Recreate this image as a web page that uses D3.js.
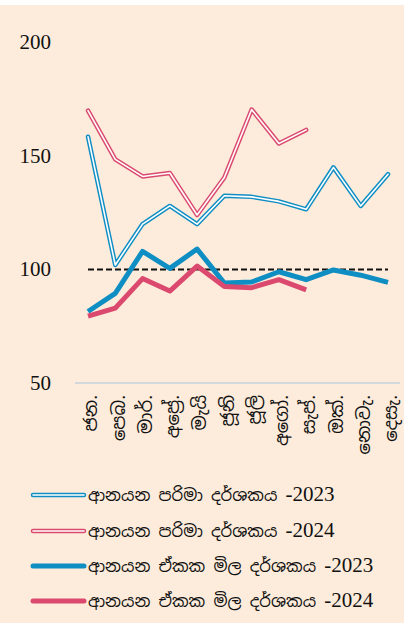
<!DOCTYPE html>
<html lang="si">
  <head>
    <meta charset="utf-8" />
    <title>ආනයන දර්ශක</title>
    <script src="https://cdn.jsdelivr.net/npm/d3@7"></script>
    <style>
      body {
        margin: 0;
        background: #fff;
      }
      .tick-label {
        font-family: "Liberation Serif", "Times New Roman", serif;
        font-size: 21px;
        fill: #111;
      }
      .month-label {
        font-family: "Noto Sans Sinhala", "Iskoola Pota", "Liberation Serif", serif;
        font-size: 18px;
        fill: #111;
      }
      .legend-label {
        font-family: "Noto Sans Sinhala", "Iskoola Pota", "Liberation Serif", serif;
        font-size: 16.5px;
        fill: #111;
      }
      .legend-year {
        font-family: "Liberation Serif", "Times New Roman", serif;
        font-size: 21px;
      }
    </style>
  </head>
  <body>
    <svg id="chart"></svg>
    <script>
      // data
      const months = ["ජන.", "පෙබ.", "මාර්.", "අප්‍රේ.", "මැයි", "ජූනි", "ජූලි", "අගෝ.", "සැප්.", "ඔක්.", "නොවැ.", "දෙසැ."];
      const volume2023 = [158.5, 102, 120, 128, 120, 132.5, 132, 130, 126.5, 145, 128, 142];
      const volume2024 = [170, 148.5, 141, 142.5, 124, 140.5, 170.5, 155.5, 161.5];
      const unitValue2023 = [81.5, 89.5, 108, 100.5, 109, 94, 94.5, 99, 95.5, 99.8, 97.5, 94.3];
      const unitValue2024 = [79.5, 83, 96, 90.5, 101.5, 92.5, 92, 95.5, 91];
      const yTicks = [50, 100, 150, 200];
      const baseValue = 100;
      const legendNames = ["ආනයන පරිමා දර්ශකය", "ආනයන පරිමා දර්ශකය", "ආනයන ඒකක මිල දර්ශකය", "ආනයන ඒකක මිල දර්ශකය"];
      const legendYears = ["-2023", "-2024", "-2023", "-2024"];

      const blue = "#0f8ec4";
      const red = "#db4a6e";

      const width = 414;
      const height = 630;

      const svg = d3.select("#chart").attr("width", width).attr("height", height);

      // peach panel
      svg.append("rect").attr("x", 0).attr("y", 5).attr("width", 404).attr("height", 618).attr("fill", "#fdecdb");

      const x = d3.scalePoint().domain(months).range([88, 388]);
      const y = d3.scaleLinear().domain([50, 200]).range([383, 42.5]);

      // baseline at the bottom of the axis
      svg
        .append("line")
        .attr("x1", 75)
        .attr("x2", 400)
        .attr("y1", y(50))
        .attr("y2", y(50))
        .attr("stroke", "#d3d8dc")
        .attr("stroke-width", 2);

      // y tick labels
      svg
        .selectAll(".tick-label")
        .data(yTicks)
        .join("text")
        .attr("class", "tick-label")
        .attr("x", 51)
        .attr("y", (d) => y(d))
        .attr("dy", "0.33em")
        .attr("text-anchor", "end")
        .text((d) => d);

      // month labels, rotated
      svg
        .selectAll(".month-label")
        .data(months)
        .join("text")
        .attr("class", "month-label")
        .attr("transform", (d) => `translate(${x(d) + 3},395) rotate(-90)`)
        .attr("dy", "0.35em")
        .attr("text-anchor", "end")
        .text((d) => d);

      // 100 reference line
      svg
        .append("line")
        .attr("x1", x(months[0]))
        .attr("x2", x(months[months.length - 1]))
        .attr("y1", y(baseValue))
        .attr("y2", y(baseValue))
        .attr("stroke", "#111")
        .attr("stroke-width", 2)
        .attr("stroke-dasharray", "6,3");

      const line = d3
        .line()
        .x((d, i) => x(months[i]))
        .y((d) => y(d));

      function doubleLine(values, color) {
        const g = svg.append("g").attr("fill", "none").attr("stroke-linejoin", "round").attr("stroke-linecap", "round");
        g.append("path").attr("d", line(values)).attr("stroke", color).attr("stroke-width", 4.5);
        g.append("path").attr("d", line(values)).attr("stroke", "#fff").attr("stroke-width", 1.6);
      }

      function thickLine(values, color) {
        svg
          .append("path")
          .attr("d", line(values))
          .attr("fill", "none")
          .attr("stroke", color)
          .attr("stroke-width", 5)
          .attr("stroke-linejoin", "round");
      }

      doubleLine(volume2023, blue);
      doubleLine(volume2024, red);
      thickLine(unitValue2023, blue);
      thickLine(unitValue2024, red);

      // legend
      const legendStyles = [
        { color: blue, double: true },
        { color: red, double: true },
        { color: blue, double: false },
        { color: red, double: false },
      ];
      const legendY = [495, 531, 566, 601];

      legendNames.forEach((name, i) => {
        const g = svg.append("g").attr("transform", `translate(0,${legendY[i]})`);
        const st = legendStyles[i];
        g.append("line")
          .attr("x1", 33)
          .attr("x2", 84)
          .attr("stroke", st.color)
          .attr("stroke-width", st.double ? 4.5 : 5)
          .attr("stroke-linecap", "round");
        if (st.double) {
          g.append("line").attr("x1", 33).attr("x2", 84).attr("stroke", "#fff").attr("stroke-width", 1.6).attr("stroke-linecap", "round");
        }
        const t = g.append("text").attr("class", "legend-label").attr("x", 88).attr("dy", "0.35em");
        t.append("tspan").text(name + " ");
        t.append("tspan").attr("class", "legend-year").text(legendYears[i]);
      });
    </script>
  </body>
</html>
